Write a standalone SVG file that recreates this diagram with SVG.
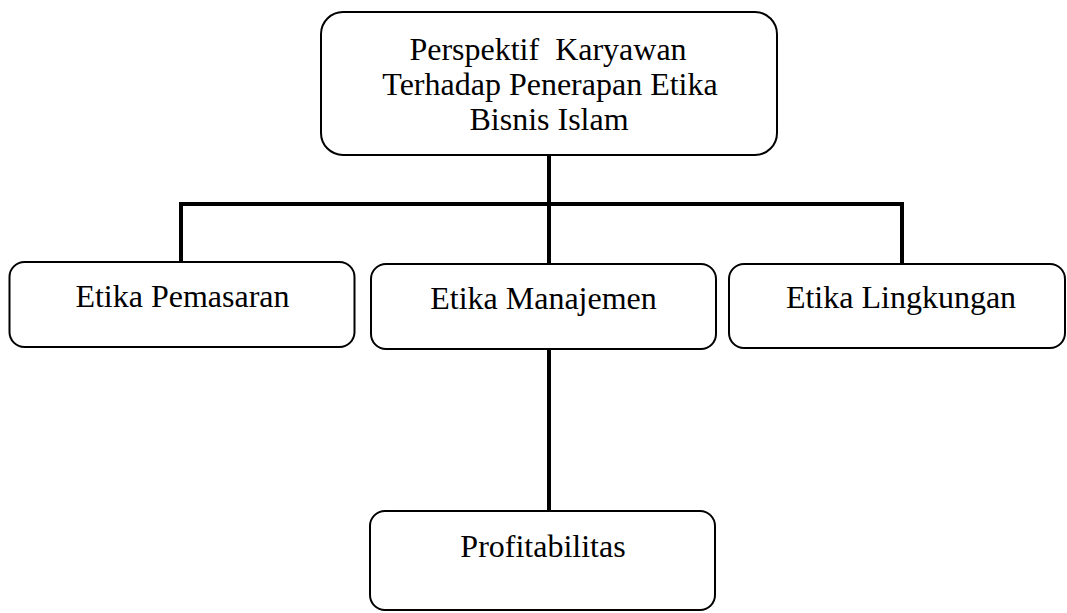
<svg xmlns="http://www.w3.org/2000/svg" width="1067" height="613" viewBox="0 0 1067 613">
  <style>
    .box { fill: #ffffff; stroke: #000000; stroke-width: 2; }
    .conn { fill: none; stroke: #000000; stroke-width: 4; stroke-linejoin: miter; stroke-linecap: butt; }
    .lbl { font-family: "Liberation Serif", "Times New Roman", serif; font-size: 32px; fill: #000000; text-anchor: middle; }
  </style>
  <rect width="1067" height="613" fill="#ffffff"/>
  <g id="connectors">
    <line class="conn" x1="549" y1="155" x2="549" y2="264"/>
    <polyline class="conn" points="181,262 181,204 902,204 902,263"/>
    <line class="conn" x1="549" y1="349" x2="549" y2="511"/>
  </g>
  <g id="node-top">
    <rect class="box" x="321" y="12" width="456" height="143" rx="22" ry="22"/>
    <text class="lbl" x="548" y="60" xml:space="preserve">Perspektif  Karyawan</text>
    <text class="lbl" x="550" y="95">Terhadap Penerapan Etika</text>
    <text class="lbl" x="549" y="130">Bisnis Islam</text>
  </g>
  <g id="node-pemasaran">
    <rect class="box" x="9.5" y="262" width="345" height="85" rx="15" ry="15"/>
    <text class="lbl" x="182.5" y="307">Etika Pemasaran</text>
  </g>
  <g id="node-manajemen">
    <rect class="box" x="371" y="264" width="345" height="85" rx="15" ry="15"/>
    <text class="lbl" x="543.5" y="309">Etika Manajemen</text>
  </g>
  <g id="node-lingkungan">
    <rect class="box" x="729" y="264" width="336" height="84" rx="15" ry="15"/>
    <text class="lbl" x="901" y="308">Etika Lingkungan</text>
  </g>
  <g id="node-profitabilitas">
    <rect class="box" x="370" y="511" width="345" height="99" rx="15" ry="15"/>
    <text class="lbl" x="543" y="557">Profitabilitas</text>
  </g>
</svg>
